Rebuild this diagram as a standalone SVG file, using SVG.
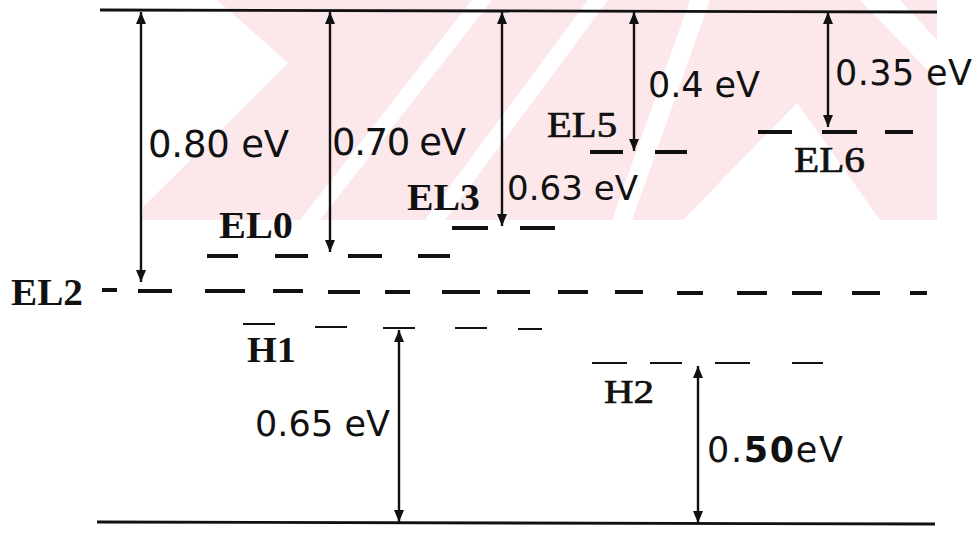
<svg xmlns="http://www.w3.org/2000/svg" width="974" height="533" viewBox="0 0 974 533">
<style>
.band{stroke:#111;stroke-width:2.8;fill:none}
.lvl{stroke:#111;stroke-width:4;stroke-linecap:butt}
.lvlt{stroke:#111;stroke-width:2}
.arr{stroke:#111;stroke-width:2.4;fill:none;marker-start:url(#ah);marker-end:url(#ah)}
.ev{font-family:"DejaVu Sans",sans-serif;fill:#111}
.lab{font-family:"Liberation Serif","DejaVu Serif",serif;fill:#111}
.med{stroke:#111;stroke-width:0.7}
.wm{fill:#fce8eb}
.wh{fill:#fff}
</style>
<defs>
<marker id="ah" markerUnits="userSpaceOnUse" viewBox="0 -6 12 12" refX="12" refY="0" markerWidth="12" markerHeight="12" orient="auto-start-reverse">
<path d="M0,-5 L12,0 L0,5 Z" fill="#111"/>
</marker>
</defs>
<rect width="974" height="533" fill="#fff"/>
<g id="watermark">
<rect class="wm" x="143" y="0" width="794" height="220"/>
<polygon class="wh" points="143,0 217,0 288,63 143,207"/>
<polygon class="wh" points="300,220 320,220 492,0 472,0"/>
<polygon class="wh" points="425,220 445,220 608,0 588,0"/>
<polygon class="wh" points="612,220 632,220 710,0 690,0"/>
<polygon class="wh" points="683,220 797,103 880,220"/>
<polygon class="wh" points="860,0 900,0 937,40 937,80"/>
</g>
<g id="bands">
<line id="conduction-band" class="band" x1="100" y1="10" x2="937" y2="12"/>
<line id="valence-band" class="band" x1="97" y1="522" x2="935" y2="524"/>
</g>
<g id="EL0">
<g class="lvl"><line x1="207" y1="256" x2="238" y2="256"/><line x1="275" y1="256" x2="308" y2="256"/><line x1="348" y1="256" x2="382" y2="256"/><line x1="418" y1="256" x2="450" y2="256"/></g>
<text class="lab" x="219" y="238" font-size="38" font-weight="bold" textLength="74" lengthAdjust="spacingAndGlyphs">EL0</text>
</g>
<g id="EL3">
<g class="lvl"><line x1="452" y1="228" x2="488" y2="228"/><line x1="520" y1="228" x2="555" y2="228"/></g>
<text class="lab" x="407" y="210" font-size="38" font-weight="bold" textLength="73" lengthAdjust="spacingAndGlyphs">EL3</text>
</g>
<g id="EL5">
<g class="lvl"><line x1="590" y1="152" x2="623" y2="152"/><line x1="655" y1="152" x2="687" y2="152"/></g>
<text class="lab med" x="547" y="137" font-size="35" textLength="70" lengthAdjust="spacingAndGlyphs">EL5</text>
</g>
<g id="EL6">
<g class="lvl"><line x1="758" y1="132" x2="792" y2="132"/><line x1="822" y1="132" x2="857" y2="132"/><line x1="885" y1="132" x2="913" y2="132"/></g>
<text class="lab med" x="794" y="172" font-size="35" textLength="71" lengthAdjust="spacingAndGlyphs">EL6</text>
</g>
<g id="EL2">
<g class="lvl"><line x1="102" y1="290" x2="117" y2="290"/><line x1="138" y1="291" x2="172" y2="291"/><line x1="205" y1="291" x2="245" y2="291"/><line x1="273" y1="291" x2="303" y2="291"/><line x1="328" y1="292" x2="360" y2="292"/><line x1="385" y1="292" x2="410" y2="292"/><line x1="442" y1="292" x2="480" y2="292"/><line x1="497" y1="292" x2="530" y2="292"/><line x1="558" y1="292" x2="588" y2="292"/><line x1="615" y1="292" x2="643" y2="292"/><line x1="677" y1="293" x2="703" y2="293"/><line x1="737" y1="293" x2="767" y2="293"/><line x1="792" y1="293" x2="822" y2="293"/><line x1="852" y1="293" x2="880" y2="293"/><line x1="910" y1="293" x2="927" y2="293"/></g>
<text class="lab" x="11" y="305" font-size="38" font-weight="bold" textLength="72" lengthAdjust="spacingAndGlyphs">EL2</text>
</g>
<g id="H1">
<g class="lvlt"><line x1="243" y1="324" x2="275" y2="324"/><line x1="315" y1="327" x2="347" y2="327"/><line x1="383" y1="328" x2="415" y2="328"/><line x1="455" y1="328" x2="487" y2="328"/><line x1="518" y1="329" x2="542" y2="329"/></g>
<text class="lab" x="247" y="362" font-size="36" font-weight="bold" textLength="49" lengthAdjust="spacingAndGlyphs">H1</text>
</g>
<g id="H2">
<g class="lvlt"><line x1="592" y1="363" x2="627" y2="363"/><line x1="650" y1="363" x2="682" y2="363"/><line x1="715" y1="363" x2="750" y2="363"/><line x1="792" y1="363" x2="823" y2="363"/></g>
<text class="lab med" x="604" y="403" font-size="33" textLength="50" lengthAdjust="spacingAndGlyphs">H2</text>
</g>
<g id="connectors">
<line class="arr" x1="141" y1="12" x2="141" y2="282"/>
<line class="arr" x1="330" y1="12" x2="330" y2="252"/>
<line class="arr" x1="502" y1="12" x2="502" y2="226"/>
<line class="arr" x1="634" y1="12" x2="634" y2="151"/>
<line class="arr" x1="828" y1="12" x2="828" y2="127"/>
<line class="arr" x1="399" y1="330" x2="399" y2="522"/>
<line class="arr" x1="698" y1="366" x2="698" y2="523"/>
</g>
<g id="energy-labels">
<text class="ev" x="148" y="157" font-size="37" textLength="141" lengthAdjust="spacing">0.80 eV</text>
<text class="ev" x="332" y="155" font-size="37" textLength="134" lengthAdjust="spacing">0.70 eV</text>
<text class="ev" x="507" y="200" font-size="34" textLength="131" lengthAdjust="spacing">0.63 eV</text>
<text class="ev" x="648" y="97" font-size="35" textLength="112" lengthAdjust="spacing">0.4 eV</text>
<text class="ev" x="835" y="85" font-size="35" textLength="137" lengthAdjust="spacing">0.35 eV</text>
<text class="ev" x="255" y="436" font-size="35" textLength="135" lengthAdjust="spacing">0.65 eV</text>
<text class="ev" x="707" y="462" font-size="35" textLength="136" lengthAdjust="spacing">0.<tspan font-weight="bold">50</tspan>eV</text>
</g>
</svg>
